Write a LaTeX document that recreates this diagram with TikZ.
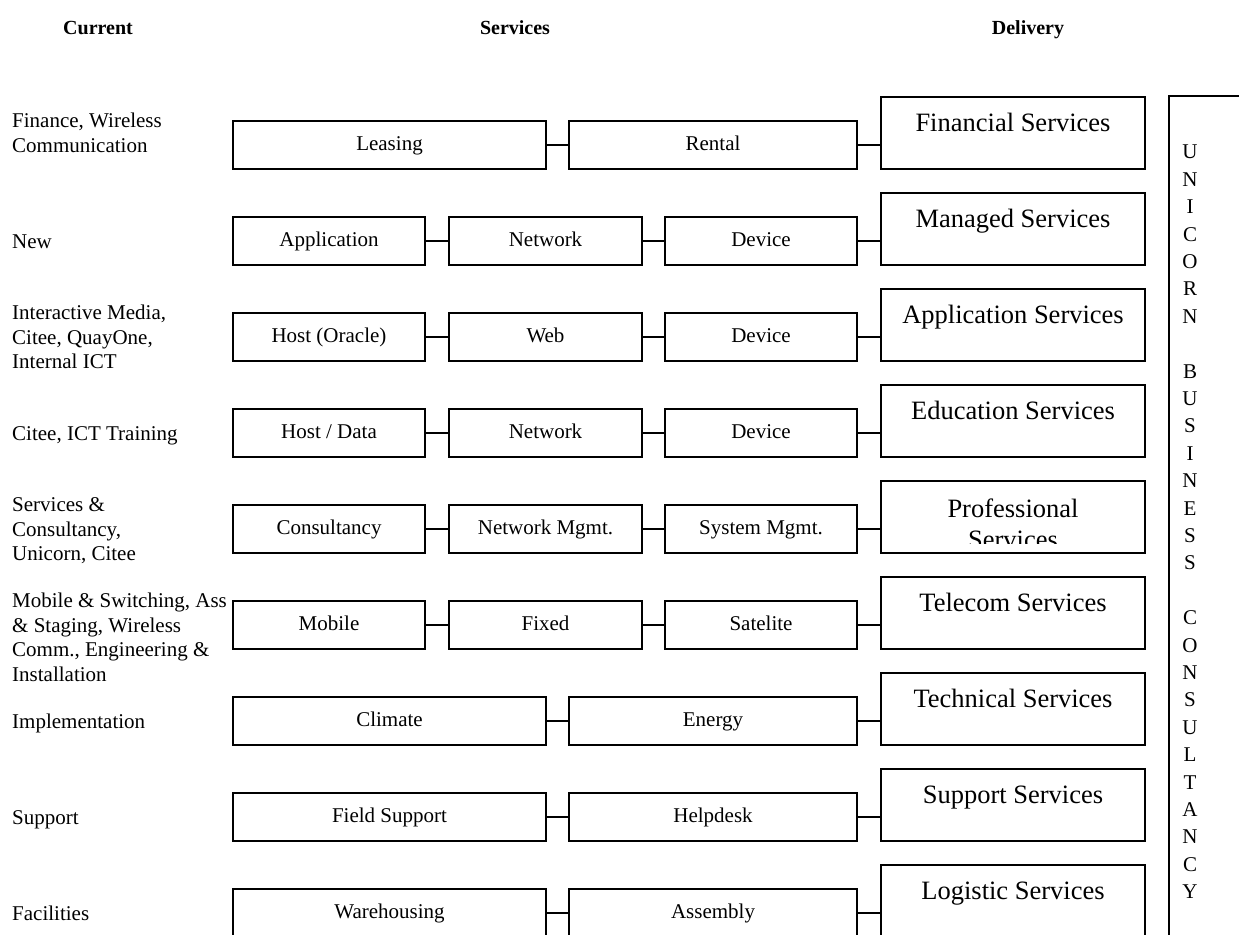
\documentclass[tikz,border=0pt]{standalone}
\usepackage{fontspec}
\setmainfont{Liberation Serif}
\usetikzlibrary{positioning,calc}

\begin{document}
\begin{tikzpicture}[x=1pt, y=-1pt,
    sbox/.style={draw, line width=2pt, minimum height=48pt, text height=14pt,
      text depth=4pt, inner sep=0pt, font=\fontsize{21}{24}\selectfont},
    dbox/.style={draw, line width=2pt, minimum width=264pt, minimum height=72pt, inner sep=0pt},
    dtext/.style={font=\fontsize{26.5}{31}\selectfont, align=center, inner sep=0pt, anchor=base},
    cur/.style={font=\fontsize{21}{24.5}\selectfont, align=left, inner sep=0pt, anchor=base west},
    head/.style={font=\fontsize{20}{24}\selectfont\bfseries, inner sep=0pt, anchor=base},
    link/.style={line width=2pt}]

\useasboundingbox (0,0) rectangle (1239,934);
\clip (0,0) rectangle (1239,934);

% column heads
\node[head] (hcur) at (98,35) {Current};
\node[head] (hsrv) at (515,35) {Services};
\node[head] (hdel) at (1028,35) {Delivery};

% rows with two services
\foreach \r/\dn/\curr/\first/\second/\deliv in {
  1/0/{Finance, Wireless\\Communication}/{Leasing}/{Rental}/{Financial Services},
  7/0/{Implementation}/{Climate}/{Energy}/{Technical Services},
  8/0/{Support}/{Field Support}/{Helpdesk}/{Support Services},
  9/0/{Facilities}/{Warehousing}/{Assembly}/{Logistic Services}}{
  \pgfmathsetmacro{\yc}{145+96*(\r-1)}
  \node[cur] (cur\r) at (12,\yc+7+24.5*\dn) {\curr};
  \node[sbox, minimum width=313pt] (sa\r) at (389.5,\yc) {\first};
  \node[sbox, minimum width=288pt] (sb\r) at (713,\yc) {\second};
  \node[dbox] (del\r) at (1013,\yc-12) {};
  \node[dtext] (dt\r) at (1013,\yc-14) {\deliv};
  \draw[link] (sa\r) -- (sb\r);
  \draw[link] (sb\r.east) -- (sb\r.east -| del\r.west);
}

% rows with three services
\foreach \r/\dn/\curr/\first/\second/\third/\deliv in {
  2/0/{New}/{Application}/{Network}/{Device}/{Managed Services},
  3/1/{Interactive Media,\\Citee, QuayOne,\\Internal ICT}/{Host (Oracle)}/{Web}/{Device}/{Application Services},
  4/0/{Citee, ICT Training}/{Host / Data}/{Network}/{Device}/{Education Services},
  6/2/{Mobile \& Switching, Ass\\\& Staging, Wireless\\Comm., Engineering \&\\Installation}/{Mobile}/{Fixed}/{Satelite}/{Telecom Services}}{
  \pgfmathsetmacro{\yc}{145+96*(\r-1)}
  \node[cur] (cur\r) at (12,\yc+7+24.5*\dn) {\curr};
  \node[sbox, minimum width=192pt] (sa\r) at (329,\yc) {\first};
  \node[sbox, minimum width=193pt] (sb\r) at (545.5,\yc) {\second};
  \node[sbox, minimum width=192pt] (sc\r) at (761,\yc) {\third};
  \node[dbox] (del\r) at (1013,\yc-12) {};
  \node[dtext] (dt\r) at (1013,\yc-14) {\deliv};
  \draw[link] (sa\r) -- (sb\r);
  \draw[link] (sb\r) -- (sc\r);
  \draw[link] (sc\r.east) -- (sc\r.east -| del\r.west);
}

% row 5, text of the delivery box is cut off
\node[cur] (cur5) at (12,529+7+24.5) {Services \&\\Consultancy,\\Unicorn, Citee};
\node[sbox, minimum width=192pt] (sa5) at (329,529) {Consultancy};
\node[sbox, minimum width=193pt] (sb5) at (545.5,529) {Network Mgmt.};
\node[sbox, minimum width=192pt] (sc5) at (761,529) {System Mgmt.};
\node[dbox] (del5) at (1013,517) {};
\begin{scope}
  \clip (del5.north west) rectangle ([yshift=11pt]del5.south east);
  \node[dtext] (dt5) at (1013,548) {Professional\\Services};
\end{scope}
\draw[link] (sa5) -- (sb5);
\draw[link] (sb5) -- (sc5);
\draw[link] (sc5.east) -- (sc5.east -| del5.west);

% consultancy column
\draw[line width=1.5pt] (1169,96) rectangle (1300,980);
\node[font=\fontsize{21}{27.4}\selectfont, align=center, inner sep=0pt] (ubc) at (1190,522)
  {U\\N\\I\\C\\O\\R\\N\\ \\B\\U\\S\\I\\N\\E\\S\\S\\ \\C\\O\\N\\S\\U\\L\\T\\A\\N\\C\\Y};

\end{tikzpicture}
\end{document}
